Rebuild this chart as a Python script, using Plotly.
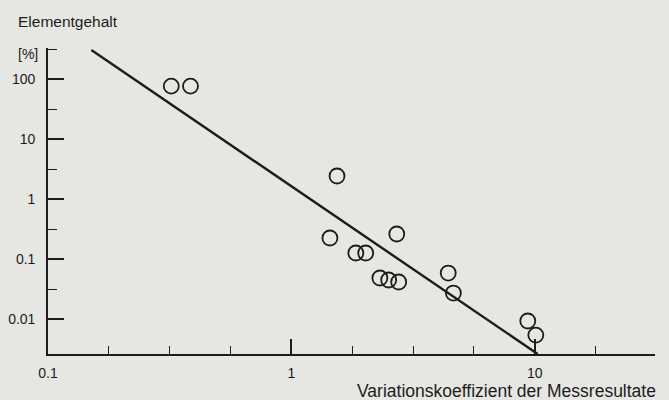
import plotly.graph_objects as go

# Data (log-log scatter with trend line)
variation_coeff = [0.321, 0.385, 1.54, 1.44, 2.71, 1.84, 2.02, 2.31, 2.51, 2.76, 4.41, 4.63, 9.36, 10.1]
element_content = [76, 76, 2.42, 0.224, 0.261, 0.126, 0.126, 0.0483, 0.0447, 0.0414, 0.0584, 0.0271, 0.00926, 0.0054]

trend_x = [0.1507, 10.28]
trend_y = [304, 0.00261]

x_tickvals = [0.1, 1, 10]
x_ticktext = ["0.1", "1", "10"]
x_minor = [10 ** -0.75, 10 ** -0.5, 10 ** -0.25, 10 ** 0.25, 10 ** 0.5, 10 ** 0.75, 10 ** 1.25, 10 ** 1.5]

y_tickvals = [100, 10, 1, 0.1, 0.01]
y_ticktext = ["100", "10", "1", "0.1", "0.01"]
y_minor = [10 ** 2.5, 10 ** 1.5, 10 ** 0.5, 10 ** -0.5, 10 ** -1.5]

BG = "#e6e7e2"
INK = "#1c1c1c"
FONT = "Liberation Sans, Arial, Helvetica, sans-serif"

fig = go.Figure()
fig.add_trace(go.Scatter(
    x=trend_x, y=trend_y, mode="lines",
    line=dict(color=INK, width=2.4), hoverinfo="skip", showlegend=False,
))
fig.add_trace(go.Scatter(
    x=variation_coeff, y=element_content, mode="markers",
    marker=dict(symbol="circle-open", size=15, color=INK, line=dict(width=1.8, color=INK)),
    showlegend=False,
))

fig.update_layout(
    width=669, height=400,
    margin=dict(l=48, r=14, t=48, b=46, autoexpand=False),
    paper_bgcolor=BG, plot_bgcolor=BG,
    font=dict(family=FONT, size=14, color=INK),
    xaxis=dict(
        type="log", range=[-1, 1.494], automargin=False,
        showgrid=False, zeroline=False,
        showline=True, linecolor=INK, linewidth=1.6,
        tickmode="array", tickvals=x_tickvals, ticktext=x_ticktext,
        ticks="inside", ticklen=15, tickwidth=1.6, tickcolor=INK,
        ticklabelstandoff=5,
        minor=dict(tickmode="array", tickvals=x_minor, ticks="inside", ticklen=8,
                   tickwidth=1.4, tickcolor=INK, showgrid=False),
        tickfont=dict(size=14),
    ),
    yaxis=dict(
        type="log", range=[-2.583, 2.517], automargin=False,
        showgrid=False, zeroline=False,
        showline=True, linecolor=INK, linewidth=1.6,
        tickmode="array", tickvals=y_tickvals, ticktext=y_ticktext,
        ticks="inside", ticklen=16, tickwidth=1.6, tickcolor=INK,
        ticklabelstandoff=8,
        minor=dict(tickmode="array", tickvals=y_minor, ticks="inside", ticklen=9,
                   tickwidth=1.4, tickcolor=INK, showgrid=False),
        tickfont=dict(size=14),
    ),
    annotations=[
        dict(text="Elementgehalt", xref="paper", yref="paper", x=0, y=1,
             xanchor="left", yanchor="middle", xshift=-32, yshift=27,
             showarrow=False, font=dict(size=15.5, family=FONT, color=INK)),
        dict(text="[%]", xref="paper", yref="paper", x=0, y=1,
             xanchor="right", yanchor="middle", xshift=-8, yshift=-6,
             showarrow=False, font=dict(size=14, family=FONT, color=INK)),
        dict(text="Variationskoeffizient der Messresultate", xref="paper", yref="paper",
             x=1, y=0, xanchor="right", yanchor="middle", xshift=3, yshift=-37,
             showarrow=False, font=dict(size=17.5, family=FONT, color=INK)),
    ],
)

fig.write_html(
    "out.html",
    config={"displayModeBar": False},
    post_script="document.body.style.margin='0';document.body.style.overflow='hidden';",
)
